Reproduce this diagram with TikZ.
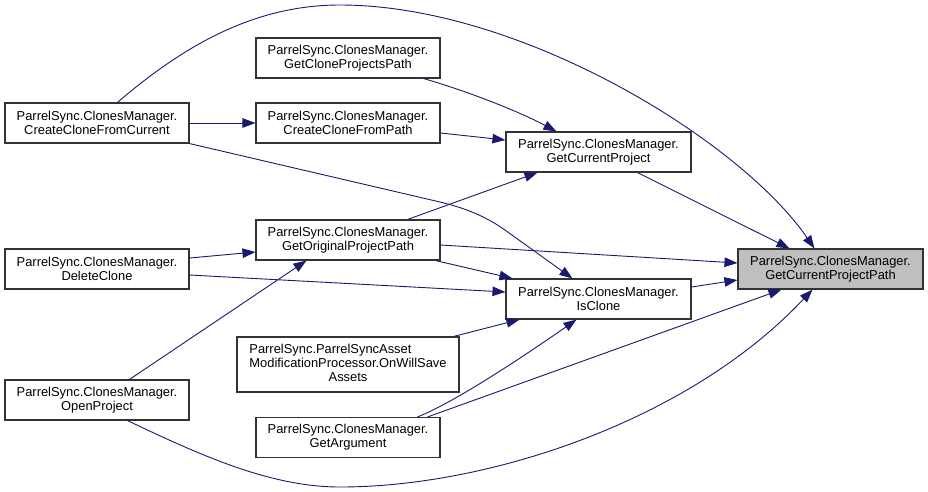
\documentclass[tikz,border=0pt]{standalone}
\usepackage{fontspec}
\setmainfont{Liberation Sans}
\usetikzlibrary{arrows.meta,calc}
\definecolor{edgeblue}{RGB}{25,25,112}
\definecolor{boxgray}{RGB}{191,191,191}
\begin{document}
\begin{tikzpicture}[x=1pt,y=-1pt,
  box/.style={draw=black!80, line width=1.1pt, fill=white, minimum width=184pt,
    minimum height=40pt, inner sep=0pt, align=center,
    font=\fontsize{12.9}{14}\selectfont, text=black},
  edge/.style={draw=edgeblue, line width=0.9pt, -{Triangle[length=13pt,width=9.5pt]}}]
\useasboundingbox (0,0) rectangle (928,491);

\node[box] (ccfc) at (97,123) {ParrelSync.ClonesManager.\\CreateCloneFromCurrent};
\node[box] (dc) at (97,269) {ParrelSync.ClonesManager.\\DeleteClone};
\node[box] (op) at (97,400) {ParrelSync.ClonesManager.\\OpenProject};
\node[box] (gcpath) at (348,58) {ParrelSync.ClonesManager.\\GetCloneProjectsPath};
\node[box] (ccfp) at (348,123) {ParrelSync.ClonesManager.\\CreateCloneFromPath};
\node[box] (gopp) at (348,240) {ParrelSync.ClonesManager.\\GetOriginalProjectPath};
\node[box, minimum width=222pt, minimum height=55pt] (psa) at (348,364.5)
  {\begin{tabular}{@{}c@{}}\begin{tabular}{@{}l@{}}ParrelSync.ParrelSyncAsset\\ModificationProcessor.OnWillSave\end{tabular}\\Assets\end{tabular}};
\node[box] (ga) at (348,437.5) {ParrelSync.ClonesManager.\\GetArgument};
\node[box, minimum width=185pt] (gcp) at (598.5,152) {ParrelSync.ClonesManager.\\GetCurrentProject};
\node[box, minimum width=185pt] (isc) at (598.5,299) {ParrelSync.ClonesManager.\\IsClone};
\node[box, minimum width=185pt, fill=boxgray] (gcpp) at (830.5,269) {ParrelSync.ClonesManager.\\GetCurrentProjectPath};

% edges
\draw[edge] (ccfc.east) -- (ccfp.west);
\draw[edge] ($(ccfc.north west)+(113,0)$) .. controls (190,40) and (260,5) .. (340,5)
  .. controls (520,5) and (740,140) .. ($(gcpp.north west)+(77,0)$);
\draw[edge] (ccfc.south east) -- (440,202) .. controls (465,208) and (485,216) .. (505,230)
  -- ($(isc.north west)+(67,0)$);
\draw[edge] ($(gcpath.south east)+(-17,0)$) .. controls (470,92) and (520,112) .. ($(gcp.north west)+(51,0)$);
\draw[edge] ($(ccfp.east)+(0,10)$) -- ($(gcp.west)+(0,-12)$);
\draw[edge] ($(gopp.north east)+(-33,0)$) -- ($(gcp.south west)+(32,0)$);
\draw[edge] ($(gopp.east)+(0,5)$) -- ($(gcpp.west)+(0,-6)$);
\draw[edge] ($(gopp.south east)+(-5,0)$) -- ($(isc.north west)+(7,0)$);
\draw[edge] ($(dc.east)+(0,-11)$) -- ($(gopp.west)+(0,12)$);
\draw[edge] ($(dc.east)+(0,6)$) -- ($(isc.west)+(0,-7)$);
\draw[edge] ($(op.north west)+(125,0)$) -- ($(gopp.south west)+(51,0)$);
\draw[edge] ($(op.south west)+(123,0)$) .. controls (200,455) and (270,487) .. (340,487)
  .. controls (490,487) and (690,420) .. ($(gcpp.south west)+(75,0)$);
\draw[edge] ($(isc.east)+(0,-12)$) -- ($(gcpp.west)+(0,11)$);
\draw[edge] ($(gcp.south west)+(132,0)$) -- ($(gcpp.north west)+(52,0)$);
\draw[edge] ($(psa.north east)+(-6,0)$) -- ($(isc.south west)+(14,0)$);
\draw[edge] ($(ga.north east)+(-23,0)$) .. controls (460,400) and (540,345) .. ($(isc.south west)+(71,0)$);
\draw[edge] ($(ga.north east)+(-13,0)$) -- ($(gcpp.south west)+(44,0)$);
\end{tikzpicture}
\end{document}
